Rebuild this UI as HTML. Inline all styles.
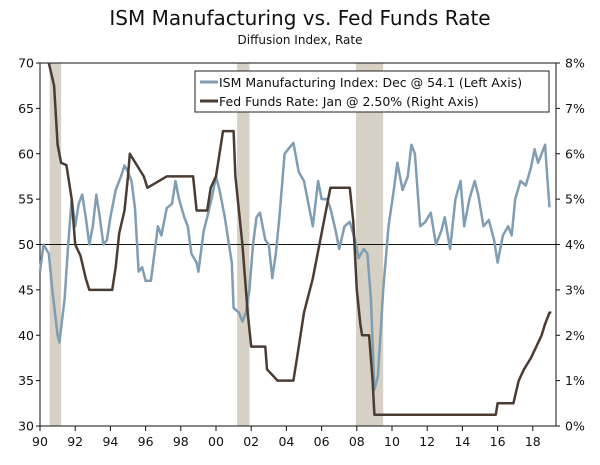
<!DOCTYPE html>
<html><head><meta charset="utf-8">
<style>
body{margin:0;background:#fff;width:600px;height:461px;overflow:hidden;font-family:"DejaVu Sans","Liberation Sans",sans-serif;}
svg text{font-family:"DejaVu Sans","Liberation Sans",sans-serif;fill:#111;}
</style></head>
<body>
<svg id="chart" width="600" height="461">
<text x="300" y="25" font-size="20" text-anchor="middle">ISM Manufacturing vs. Fed Funds Rate</text>
<text x="300" y="44" font-size="12" text-anchor="middle">Diffusion Index, Rate</text>
<g id="rec"></g>
<g id="axes"></g>
<g id="lines"></g>
<g id="legend">
<rect x="195" y="71" width="354" height="41" fill="#fff" stroke="#222" stroke-width="1"/>
<line x1="200" y1="82" x2="218" y2="82" stroke="#7f9db3" stroke-width="3"/>
<text x="219" y="87" font-size="12.5">ISM Manufacturing Index: Dec @ 54.1 (Left Axis)</text>
<line x1="200" y1="101" x2="218" y2="101" stroke="#4a3c32" stroke-width="3"/>
<text x="219" y="106" font-size="12.5">Fed Funds Rate: Jan @ 2.50% (Right Axis)</text>
</g>
</svg>
<script>
const recessions=[[1990.55,1991.2],[2001.2,2001.9],[2007.95,2009.5]];
const ismYears=[1990.0,1990.2,1990.5,1990.7,1991.0,1991.1,1991.4,1991.6,1991.8,1992.0,1992.2,1992.4,1992.6,1992.8,1993.0,1993.2,1993.4,1993.6,1993.8,1994.0,1994.3,1994.6,1994.8,1995.0,1995.2,1995.4,1995.6,1995.8,1996.0,1996.3,1996.5,1996.7,1996.9,1997.2,1997.5,1997.7,1997.9,1998.2,1998.4,1998.6,1998.9,1999.0,1999.3,1999.5,1999.8,2000.0,2000.2,2000.5,2000.7,2000.9,2001.0,2001.3,2001.5,2001.7,2001.9,2002.1,2002.3,2002.5,2002.8,2003.0,2003.2,2003.4,2003.6,2003.9,2004.1,2004.4,2004.7,2005.0,2005.2,2005.5,2005.8,2006.0,2006.3,2006.5,2006.8,2007.0,2007.3,2007.6,2007.9,2008.1,2008.4,2008.6,2008.8,2009.0,2009.2,2009.5,2009.8,2010.1,2010.3,2010.6,2010.9,2011.1,2011.3,2011.6,2011.9,2012.2,2012.5,2012.8,2013.0,2013.3,2013.6,2013.9,2014.1,2014.4,2014.7,2014.9,2015.2,2015.5,2015.8,2016.0,2016.3,2016.6,2016.8,2017.0,2017.3,2017.6,2017.9,2018.1,2018.3,2018.5,2018.7,2018.8,2018.95];
const ismValues=[47,50,49,45,40,39.2,44,50,55,52,54.5,55.5,53,50,52,55.5,53,50,50.5,53,56,57.5,58.7,58,57,54,47,47.5,46,46,49,52,51,54,54.5,57,55,53,52,49,48,47,51.5,53,55.5,57.5,56,53,50.5,48,43,42.5,41.5,42.5,45,50,53,53.5,50.5,50,46.3,49,53,60,60.5,61.2,58,57,55,52,57,55,55,54,51.5,49.5,52,52.5,50.5,48.5,49.5,49,44,34,35.5,45,52,56,59,56,57.5,61,60,52,52.5,53.5,50,51.5,53,49.5,55,57,52,55,57,55.5,52,52.7,50.5,48,51,52,51,55,57,56.5,58.5,60.5,59,60,61,58,54.1];
const fedYears=[1990.5,1990.8,1991.0,1991.2,1991.5,1991.8,1992.0,1992.3,1992.6,1992.8,1994.1,1994.3,1994.5,1994.8,1995.0,1995.1,1995.5,1995.9,1996.1,1997.2,1998.7,1998.9,1999.5,1999.7,2000.0,2000.2,2000.4,2001.0,2001.1,2001.5,2001.8,2002.0,2002.8,2002.9,2003.5,2004.4,2004.6,2005.0,2005.5,2006.0,2006.5,2007.6,2007.8,2008.0,2008.2,2008.3,2008.7,2008.9,2009.0,2015.9,2016.0,2016.9,2017.2,2017.5,2017.9,2018.2,2018.5,2018.7,2018.95,2019.05];
const fedValues=[8,7.5,6.2,5.8,5.75,5,4,3.75,3.25,3,3,3.5,4.25,4.75,5.5,6,5.75,5.5,5.25,5.5,5.5,4.75,4.75,5.25,5.5,6,6.5,6.5,5.5,4,2.5,1.75,1.75,1.25,1,1,1.5,2.5,3.25,4.25,5.25,5.25,4.5,3,2.25,2,2,1,0.25,0.25,0.5,0.5,1,1.25,1.5,1.75,2,2.25,2.5,2.5];
const xTickLabels=["90","92","94","96","98","00","02","04","06","08","10","12","14","16","18"];
const leftTicks=[30,35,40,45,50,55,60,65,70];
const rightTicks=[0,1,2,3,4,5,6,7,8];

const L=40,R=556,T=63,B=426;
const xS=y=>L+(y-1990)*17.6;
const yL=v=>B-(v-30)/40*(B-T);
const yR=v=>B-v/8*(B-T);
const NS="http://www.w3.org/2000/svg";
function mk(tag,attrs,parent){const e=document.createElementNS(NS,tag);for(const k in attrs)e.setAttribute(k,attrs[k]);document.getElementById(parent).appendChild(e);return e;}

recessions.forEach(r=>{
 const e=mk("rect",{x:xS(r[0]),y:T,width:xS(r[1])-xS(r[0]),height:B-T,fill:"#d6d1c4"},"rec");
 
 
});
let a=mk("line",{x1:L,y1:T,x2:L,y2:B,stroke:"#111","stroke-width":1},"axes");


a=mk("line",{x1:R,y1:T,x2:R,y2:B,stroke:"#111","stroke-width":1},"axes");


a=mk("line",{x1:L,y1:B,x2:R,y2:B,stroke:"#111","stroke-width":1},"axes");


a=mk("line",{x1:L,y1:T,x2:R,y2:T,stroke:"#111","stroke-width":1},"axes");


a=mk("line",{x1:L,y1:yL(50),x2:R,y2:yL(50),stroke:"#111","stroke-width":1},"axes");


leftTicks.forEach(v=>{
 mk("line",{x1:L-4,y1:yL(v),x2:L,y2:yL(v),stroke:"#111"},"axes");
 const t=mk("text",{x:L-6,y:yL(v)+4.5,"font-size":12.5,"text-anchor":"end"},"axes");
 t.textContent=v;
 
 
});
rightTicks.forEach(v=>{
 mk("line",{x1:R,y1:yR(v),x2:R+4,y2:yR(v),stroke:"#111"},"axes");
 const t=mk("text",{x:R+9,y:yR(v)+4.5,"font-size":12.5},"axes");
 t.textContent=v+"%";
 
 
});
xTickLabels.forEach((lab,i)=>{
 const x=xS(1990+2*i);
 mk("line",{x1:x,y1:B,x2:x,y2:B+5,stroke:"#111"},"axes");
 const t=mk("text",{x:x,y:B+20,"font-size":12.5,"text-anchor":"middle"},"axes");
 t.textContent=lab;
 
 
});
const ismPts=ismYears.map((y,i)=>xS(y).toFixed(1)+","+yL(ismValues[i]).toFixed(1)).join(" ");
let p=mk("polyline",{points:ismPts,fill:"none",stroke:"#7f9db3","stroke-width":2.5,"stroke-linejoin":"round"},"lines");


const fedPts=fedYears.map((y,i)=>xS(y).toFixed(1)+","+Math.max(T,yR(fedValues[i])).toFixed(1)).join(" ");
p=mk("polyline",{points:fedPts,fill:"none",stroke:"#4a3c32","stroke-width":2.5,"stroke-linejoin":"round"},"lines");


</script>
</body></html>
